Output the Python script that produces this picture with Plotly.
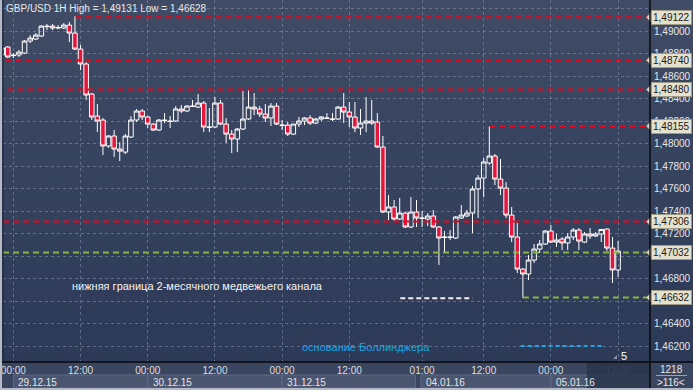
import plotly.graph_objects as go

# ---------------- data ----------------
bars = list(range(-2, 109))
opens = [1.48787, 1.48858, 1.48787, 1.48787, 1.48804, 1.48911, 1.48929, 1.48956, 1.49044, 1.49044,
         1.49027, 1.49027, 1.49053, 1.48982, 1.48840, 1.48707, 1.48440, 1.48244, 1.48209, 1.47978,
         1.48067, 1.47951, 1.47924, 1.48058, 1.48209, 1.48289, 1.48236, 1.48173, 1.48120, 1.48209,
         1.48200, 1.48200, 1.48307, 1.48289, 1.48333, 1.48324, 1.48360, 1.48147, 1.48147, 1.48360,
         1.48173, 1.48084, 1.48040, 1.48129, 1.48218, 1.48324, 1.48307, 1.48262, 1.48227, 1.48333,
         1.48164, 1.48164, 1.48084, 1.48173, 1.48200, 1.48227, 1.48182, 1.48218, 1.48227, 1.48218,
         1.48218, 1.48324, 1.48280, 1.48236, 1.48138, 1.48182, 1.48200, 1.48191, 1.47969, 1.47391,
         1.47436, 1.47329, 1.47382, 1.47258, 1.47391, 1.47338, 1.47329, 1.47356, 1.47258, 1.47169,
         1.47169, 1.47160, 1.47338, 1.47356, 1.47382, 1.47596, 1.47693, 1.47827, 1.47889, 1.47684,
         1.47604, 1.47364, 1.47169, 1.46884, 1.46840, 1.46964, 1.47062, 1.47107, 1.47222, 1.47124,
         1.47151, 1.47116, 1.47169, 1.47231, 1.47124, 1.47196, 1.47178, 1.47196, 1.47240, 1.47071,
         1.46876]
highs = [1.48858, 1.48867, 1.48804, 1.48831, 1.48920, 1.48964, 1.48982, 1.49053, 1.49062, 1.49062,
         1.49053, 1.49071, 1.49080, 1.49131, 1.48876, 1.48724, 1.48449, 1.48351, 1.48227, 1.48076,
         1.48120, 1.48013, 1.48084, 1.48244, 1.48307, 1.48307, 1.48244, 1.48182, 1.48218, 1.48271,
         1.48244, 1.48333, 1.48342, 1.48342, 1.48387, 1.48440, 1.48378, 1.48316, 1.48413, 1.48387,
         1.48227, 1.48120, 1.48138, 1.48467, 1.48476, 1.48449, 1.48333, 1.48351, 1.48360, 1.48360,
         1.48209, 1.48191, 1.48173, 1.48236, 1.48236, 1.48253, 1.48227, 1.48244, 1.48271, 1.48271,
         1.48333, 1.48449, 1.48369, 1.48369, 1.48307, 1.48413, 1.48387, 1.48271, 1.48067, 1.47542,
         1.47498, 1.47516, 1.47391, 1.47524, 1.47498, 1.47400, 1.47382, 1.47409, 1.47267, 1.47222,
         1.47231, 1.47356, 1.47453, 1.47409, 1.47622, 1.47720, 1.47871, 1.48155, 1.47907, 1.47862,
         1.47658, 1.47436, 1.47293, 1.46893, 1.47009, 1.47107, 1.47142, 1.47231, 1.47276, 1.47196,
         1.47169, 1.47204, 1.47249, 1.47249, 1.47213, 1.47249, 1.47213, 1.47240, 1.47245, 1.47169,
         1.47133]
lows = [1.48778, 1.48760, 1.48760, 1.48769, 1.48796, 1.48893, 1.48920, 1.48947, 1.49009, 1.49009,
        1.49018, 1.49018, 1.48902, 1.48831, 1.48653, 1.48387, 1.48209, 1.48102, 1.47898, 1.47960,
        1.47880, 1.47844, 1.47907, 1.48049, 1.48191, 1.48209, 1.48138, 1.48111, 1.48111, 1.48182,
        1.48138, 1.48191, 1.48271, 1.48280, 1.48324, 1.48316, 1.48102, 1.48102, 1.48138, 1.48164,
        1.48004, 1.47916, 1.47924, 1.48120, 1.48209, 1.48253, 1.48236, 1.48191, 1.48156, 1.48164,
        1.48120, 1.48067, 1.48076, 1.48147, 1.48164, 1.48164, 1.48173, 1.48200, 1.48218, 1.48200,
        1.48209, 1.48182, 1.48147, 1.48102, 1.48076, 1.48102, 1.48164, 1.47960, 1.47382, 1.47320,
        1.47311, 1.47320, 1.47249, 1.47249, 1.47258, 1.47258, 1.47267, 1.47249, 1.46920, 1.47027,
        1.47142, 1.47151, 1.47329, 1.47347, 1.47204, 1.47338, 1.47524, 1.47809, 1.47631, 1.47542,
        1.47338, 1.47124, 1.46849, 1.46628, 1.46787, 1.46938, 1.47027, 1.47098, 1.47116, 1.47080,
        1.47053, 1.47053, 1.47142, 1.47053, 1.47116, 1.47151, 1.47169, 1.47124, 1.47044, 1.46760,
        1.46813]
closes = [1.48849, 1.48769, 1.48782, 1.48813, 1.48911, 1.48938, 1.48964, 1.49044, 1.49040, 1.49027,
          1.49031, 1.49053, 1.48982, 1.48840, 1.48707, 1.48431, 1.48236, 1.48200, 1.47978, 1.48067,
          1.47951, 1.47933, 1.48067, 1.48209, 1.48289, 1.48236, 1.48173, 1.48120, 1.48209, 1.48204,
          1.48196, 1.48307, 1.48289, 1.48333, 1.48331, 1.48360, 1.48147, 1.48144, 1.48360, 1.48173,
          1.48084, 1.48040, 1.48129, 1.48218, 1.48324, 1.48307, 1.48262, 1.48227, 1.48333, 1.48173,
          1.48162, 1.48084, 1.48173, 1.48200, 1.48227, 1.48182, 1.48218, 1.48236, 1.48224, 1.48215,
          1.48324, 1.48280, 1.48236, 1.48138, 1.48182, 1.48200, 1.48182, 1.47969, 1.47391, 1.47436,
          1.47329, 1.47382, 1.47258, 1.47391, 1.47338, 1.47335, 1.47356, 1.47258, 1.47160, 1.47166,
          1.47166, 1.47347, 1.47364, 1.47382, 1.47596, 1.47693, 1.47836, 1.47889, 1.47684, 1.47604,
          1.47364, 1.47169, 1.46884, 1.46840, 1.46964, 1.47062, 1.47107, 1.47222, 1.47124, 1.47142,
          1.47116, 1.47169, 1.47231, 1.47133, 1.47196, 1.47178, 1.47196, 1.47236, 1.47071, 1.46876,
          1.47044]

tick_bars = [0, 12, 24, 36, 48, 60, 73, 84, 96, 108]
tick_labels = ["00:00", "12:00", "00:00", "12:00", "00:00", "12:00", "01:00", "12:00", "00:00", "12:00"]
date_labels = ["29.12.15", "30.12.15", "31.12.15", "04.01.16", "05.01.16"]
date_from = [0, 24, 48, 72.8, 96]
date_to = [24, 48, 71.8, 96, 113.7]

price_ticks = [1.462, 1.464, 1.466, 1.468, 1.470, 1.472, 1.474, 1.476, 1.478,
               1.480, 1.482, 1.484, 1.486, 1.488, 1.490, 1.492]
hidden_ticks = [1.466, 1.470, 1.492]  # covered by the level badges in the reference

level_prices = [1.49122, 1.48740, 1.48480, 1.48155, 1.47306, 1.47032, 1.46632]
level_from = [11.2, -1.5, -1.1, 85, -1.85, -1.85, 91]
level_kind = ["res", "res", "res", "res", "res", "sup", "sup"]

channel_price = 1.46625
channel_from, channel_to = 69.1, 82
boll_price = 1.46200
boll_from, boll_to = 90.6, 105.5

title_text = "GBP/USD 1H High = 1,49131 Low = 1,46628"
channel_text = "нижняя граница 2-месячного медвежьего канала"
boll_text = "основание Боллинджера"

# ---------------- layout helpers ----------------
W, H = 693, 390
ML, MR, MT, MB = 3, 43, 0, 28
PW, PH = W - ML - MR, H - MT - MB
X_RANGE = [-1.85, 113.7]
Y_RANGE = [1.46058, 1.49276]


def px(xp):
    return (xp - ML) / PW


def py(yp):
    return (MT + PH - yp) / PH


def price_per_px():
    return (Y_RANGE[1] - Y_RANGE[0]) / PH


def fmt(p):
    return ("%.5f" % p).replace(".", ",")


RED = "#e8061d"
GREEN = "#84b53e"
FONT = "Liberation Sans"

fig = go.Figure()
fig.add_trace(go.Candlestick(
    x=bars, open=opens, high=highs, low=lows, close=closes,
    increasing=dict(line=dict(color="#ffffff", width=1), fillcolor="rgba(0,0,0,0)"),
    decreasing=dict(line=dict(color="#ffffff", width=1), fillcolor="#e3163c"),
    whiskerwidth=0, hoverinfo="skip", showlegend=False,
))

shapes = []
# background gradient over plot + right axis panel
N = 36
top_c, bot_c = (64, 76, 101), (44, 57, 87)
for i in range(N):
    t = (i + 0.5) / N
    c = tuple(int(round(top_c[k] + (bot_c[k] - top_c[k]) * t)) for k in range(3))
    shapes.append(dict(type="rect", xref="paper", yref="paper", layer="below",
                       x0=px(0), x1=px(W), y0=py(PH * i / N), y1=py(PH * (i + 1) / N + 0.5),
                       fillcolor="rgb(%d,%d,%d)" % c, line=dict(width=0)))

# date boxes
for a, b in zip(date_from, date_to):
    shapes.append(dict(type="rect", xref="x", yref="paper", layer="below",
                       x0=a, x1=b, y0=py(375), y1=py(388),
                       fillcolor="#4a5570", line=dict(color="#606b85", width=1)))
# future area (dark box)
shapes.append(dict(type="rect", xref="x", yref="paper", layer="above",
                   x0=102.4, x1=X_RANGE[1], y0=py(362.5), y1=py(388),
                   fillcolor="rgba(40,52,76,0.82)", line=dict(width=0)))

# key levels
for p, a, k in zip(level_prices, level_from, level_kind):
    col = RED if k == "res" else GREEN
    shapes.append(dict(type="line", xref="x", yref="y", x0=a, x1=X_RANGE[1], y0=p, y1=p,
                       line=dict(color=col, width=2, dash="6px,4px")))
shapes.append(dict(type="line", xref="x", yref="y", x0=channel_from, x1=channel_to,
                   y0=channel_price, y1=channel_price,
                   line=dict(color="#f2f2f2", width=2, dash="5px,3px")))
shapes.append(dict(type="line", xref="x", yref="y", x0=boll_from, x1=boll_to,
                   y0=boll_price, y1=boll_price,
                   line=dict(color="#1ea6e4", width=2, dash="4px,3px")))

# badge notches
h = 5.5 * price_per_px()
for p in level_prices:
    shapes.append(dict(type="path", xref="paper", yref="y", layer="above",
                       path="M %f %f L %f %f L %f %f Z" % (px(651.5), p + h, px(646.5), p, px(651.5), p - h),
                       fillcolor="#e4e1cf", line=dict(color="#9d9a85", width=1)))

# frame lines
shapes.append(dict(type="line", xref="paper", yref="paper", x0=px(650), x1=px(650),
                   y0=py(0), y1=py(390), line=dict(color="#0a0a0a", width=1.5)))
shapes.append(dict(type="line", xref="paper", yref="paper", x0=px(0), x1=px(693),
                   y0=py(362), y1=py(362), line=dict(color="#0a0a0a", width=1.5)))
shapes.append(dict(type="line", xref="paper", yref="paper", x0=px(3), x1=px(3),
                   y0=py(0), y1=py(362), line=dict(color="#1c2434", width=1)))
shapes.append(dict(type="rect", xref="paper", yref="paper", x0=px(0), x1=px(2),
                   y0=py(0), y1=py(390), fillcolor="#b4bac6", line=dict(width=0)))
shapes.append(dict(type="rect", xref="paper", yref="paper", x0=px(0), x1=px(693),
                   y0=py(388), y1=py(390), fillcolor="#b4bac6", line=dict(width=0)))
shapes.append(dict(type="line", xref="paper", yref="paper", x0=px(656), x1=px(687),
                   y0=py(375.5), y1=py(375.5), line=dict(color="#9aa3b5", width=1)))
shapes.append(dict(type="path", xref="paper", yref="paper",
                   path="M %f %f L %f %f L %f %f Z" % (px(613), py(359), px(617), py(359), px(617), py(355)),
                   fillcolor="#8d95a6", line=dict(width=0)))

annotations = []
annotations.append(dict(xref="paper", yref="paper", x=px(4), y=py(9), xanchor="left", yanchor="middle",
                        text=title_text, showarrow=False, font=dict(family=FONT, size=10, color="#e8e8e8")))
annotations.append(dict(xref="paper", yref="paper", x=px(70), y=py(286), xanchor="left", yanchor="middle",
                        text=channel_text, showarrow=False, font=dict(family=FONT, size=11, color="#f4f4f4")))
annotations.append(dict(xref="paper", yref="paper", x=px(300), y=py(347), xanchor="left", yanchor="middle",
                        text=boll_text, showarrow=False, font=dict(family=FONT, size=11, color="#18a6e6")))
annotations.append(dict(xref="paper", yref="paper", x=px(624), y=py(356), xanchor="center", yanchor="middle",
                        text="5", showarrow=False, font=dict(family=FONT, size=11, color="#ffffff")))
annotations.append(dict(xref="paper", yref="paper", x=px(671), y=py(369), xanchor="center", yanchor="middle",
                        text="1218", showarrow=False, font=dict(family=FONT, size=10, color="#e6e6e6")))
annotations.append(dict(xref="paper", yref="paper", x=px(671), y=py(382), xanchor="center", yanchor="middle",
                        text="&gt;116&lt;", showarrow=False, font=dict(family=FONT, size=10, color="#e6e6e6")))
for lab, a in zip(date_labels, date_from):
    annotations.append(dict(xref="x", yref="paper", x=a, y=py(382), xanchor="left", yanchor="middle",
                            xshift=3, text=lab, showarrow=False,
                            font=dict(family=FONT, size=10, color="#e4e4e4")))
for p in level_prices:
    annotations.append(dict(xref="paper", yref="y", x=px(651), y=p, xanchor="left", yanchor="middle",
                            text=fmt(p), showarrow=False,
                            bgcolor="#e4e1cf", bordercolor="#9d9a85", borderwidth=1, borderpad=1,
                            font=dict(family=FONT, size=10, color="#1a1a1a")))

ticktext = list(tick_labels)
ticktext[-1] = "<span style='color:#6c7690'>%s</span>" % tick_labels[-1]
price_text = ["" if any(abs(v - hv) < 1e-9 for hv in hidden_ticks) else fmt(v) for v in price_ticks]

fig.update_layout(
    width=W, height=H,
    margin=dict(l=ML, r=MR, t=MT, b=MB, pad=0, autoexpand=False),
    paper_bgcolor="#3a4560",
    plot_bgcolor="rgba(0,0,0,0)",
    boxgap=0.1, boxgroupgap=0.1,
    showlegend=False,
    hovermode=False,
    shapes=shapes,
    annotations=annotations,
    font=dict(family=FONT, size=10, color="#e0e0e0"),
    xaxis=dict(range=X_RANGE, rangeslider=dict(visible=False), tickmode="array",
               tickvals=tick_bars, ticktext=ticktext, ticks="", showline=False, zeroline=False,
               automargin=False,
               showgrid=True, gridcolor="rgba(135,150,180,0.55)", griddash="dot", gridwidth=1,
               tickfont=dict(family=FONT, size=10, color="#dedede"), ticklabelstandoff=1),
    yaxis=dict(range=Y_RANGE, side="right", tickmode="array", tickvals=price_ticks, ticktext=price_text,
               ticks="", showline=False, zeroline=False, automargin=False,
               showgrid=True, gridcolor="rgba(135,150,180,0.55)", griddash="dot", gridwidth=1,
               tickfont=dict(family=FONT, size=10, color="#e6e6e6"), ticklabelstandoff=3),
)

fig.write_html("out.html", config={"displayModeBar": False},
               post_script="document.body.style.margin='0';document.body.style.overflow='hidden';")
